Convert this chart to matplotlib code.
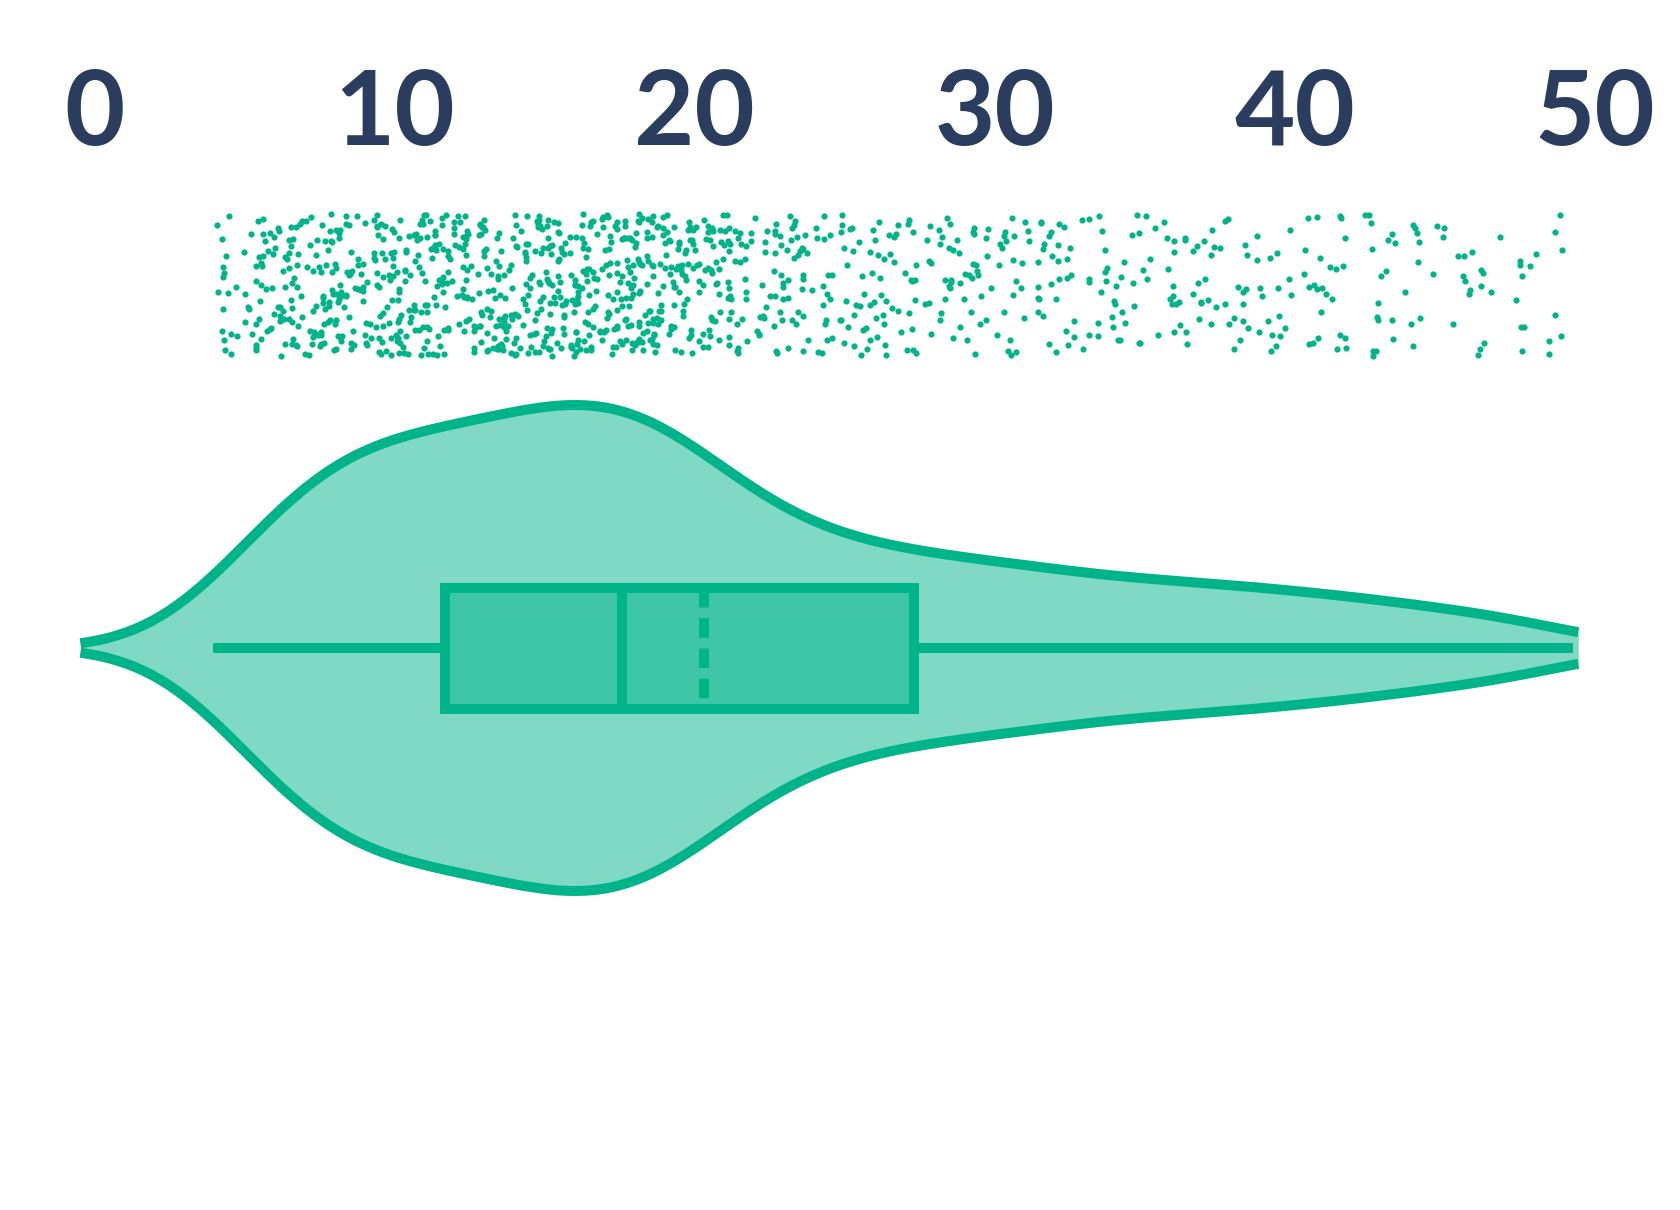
import numpy as np
import matplotlib
matplotlib.use("Agg")
import matplotlib.pyplot as plt
from matplotlib import mlab
from matplotlib.patches import Rectangle

# Observations, read as counts per 1-unit bin (bin starts at the value)
bin_start = list(range(4, 49))
bin_count = [18, 34, 40, 44, 46, 48, 50, 50, 49, 49, 53, 56, 58, 62, 62, 50,
             40, 34, 30, 27, 24, 23, 22, 21, 21, 20, 20, 18, 17, 16, 16, 15,
             15, 14, 14, 13, 13, 12, 11, 10, 9, 8, 8, 8, 8]

# Box summary
q1 = 11.68
median = 17.57
mean = 20.31
q3 = 27.31
whisker_lo = 3.95
whisker_hi = 49.28

# violin extent on the axis
violin_lo = -0.47
violin_hi = 49.46

tick_values = [0, 10, 20, 30, 40, 50]

GREEN = "#00b48a"
NAVY = "#2b3d5f"
LW = 7.2


def jitter(k, seed):
    # deterministic integer hash mapped to [0, 1), only scatters the dots
    h = (k * 2654435761 + seed * 40503) & 0xFFFFFFFF
    h ^= h >> 16
    h = (h * 0x45D9F3B) & 0xFFFFFFFF
    h ^= h >> 16
    h = (h * 0x45D9F3B) & 0xFFFFFFFF
    h ^= h >> 16
    return h / 2**32


xs, ys = [], []
idx = 0
for start, n in zip(bin_start, bin_count):
    for i in range(n):
        idx += 1
        xs.append(start + jitter(idx, 11))
        ys.append(214 + 142 * jitter(idx, 29))
xs = np.array(xs)
ys = np.array(ys)

fig = plt.figure(figsize=(16.8, 12.1), dpi=100)
ax = fig.add_axes([0, 0, 1, 1])
ax.set_xlim(-94.5 / 30, (1680 - 94.5) / 30)
ax.set_ylim(1210, 0)
ax.axis("off")

# tick labels along the top
for t in tick_values:
    ax.text(t, 115, str(t), ha="center", va="center", fontsize=75,
            fontfamily="Lato", fontweight="bold", color=NAVY)

# strip of points
ax.scatter(xs, ys, s=20, color=GREEN, linewidths=0, zorder=3)

# violin from a gaussian kde of the same points
kde = mlab.GaussianKDE(xs)
grid = np.linspace(violin_lo, violin_hi, 600)
dens = kde.evaluate(grid)
half = dens / dens.max() * 243
yc = 648
ax.fill_between(grid, yc - half, yc + half, color=GREEN, alpha=0.5,
                linewidth=0, zorder=1)
ax.plot(grid, yc - half, color=GREEN, lw=LW, solid_capstyle="butt", zorder=2)
ax.plot(grid, yc + half, color=GREEN, lw=LW, solid_capstyle="butt", zorder=2)

# box
box_top, box_bot = 588, 709
ax.add_patch(Rectangle((q1, box_top), q3 - q1, box_bot - box_top,
                       facecolor=(0, 180 / 255, 138 / 255, 0.5),
                       edgecolor=GREEN, lw=LW, joinstyle="miter", zorder=4))
ax.plot([whisker_lo, q1], [yc, yc], color=GREEN, lw=LW,
        solid_capstyle="butt", zorder=4)
ax.plot([q3, whisker_hi], [yc, yc], color=GREEN, lw=LW,
        solid_capstyle="butt", zorder=4)
ax.plot([median, median], [box_top, box_bot], color=GREEN, lw=LW,
        solid_capstyle="butt", zorder=5)
ax.plot([mean, mean], [box_top, box_bot], color=GREEN, lw=LW,
        linestyle=(0, (14.0 / LW, 7.8 / LW)), dash_capstyle="butt", zorder=5)

fig.savefig("out.png", dpi=100)
